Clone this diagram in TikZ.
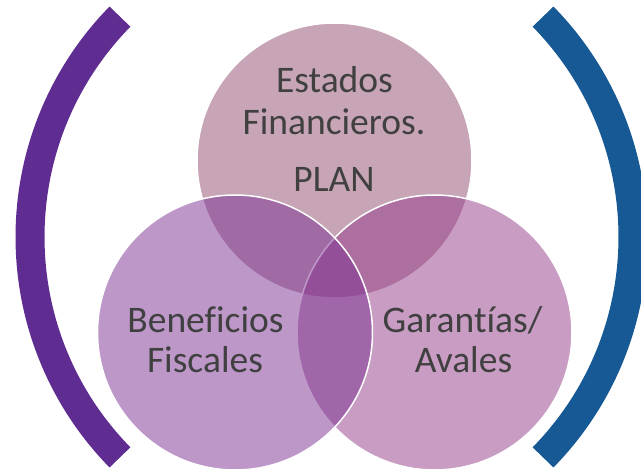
\documentclass[tikz,border=0pt]{standalone}
\usepackage{fontspec}
\setmainfont[Ligatures=NoCommon]{Carlito}
\definecolor{topc}{RGB}{145,75,111}
\definecolor{leftc}{RGB}{123,49,147}
\definecolor{rightc}{RGB}{147,59,137}
\definecolor{bracketl}{RGB}{95,44,145}
\definecolor{bracketr}{RGB}{23,89,149}
\definecolor{txt}{RGB}{64,64,64}
\begin{document}
\begin{tikzpicture}[x=1pt,y=-1pt,
  venn/.style={circle,minimum size=275pt,inner sep=0pt,fill opacity=0.5,draw=white,draw opacity=1,line width=1.5pt},
  lbl/.style={anchor=base,inner sep=0pt,text=txt,font=\fontsize{37.5}{42}\selectfont},
  bracket/.style={line width=29pt}]
\useasboundingbox (0,0) rectangle (641,476);
\fill[white] (0,0) rectangle (641,476);
% circles
\node[venn,fill=topc] (top) at (334.5,160.5) {};
\node[venn,fill=rightc] (right) at (434.5,332.5) {};
\node[venn,fill=leftc] (left) at (235,332.5) {};
% brackets
\coordinate (lc) at (345,237);
\coordinate (rc) at (318,237);
\draw[bracket,bracketl] ([shift={(224.4:315)}]lc) arc[start angle=224.4,end angle=135.6,radius=315];
\begin{scope}
\clip (0,0) rectangle (641,476);
\draw[bracket,bracketr] ([shift={(-44.4:315)}]rc) arc[start angle=-44.4,end angle=44.4,radius=315];
\end{scope}
% labels
\node[lbl] (t1) at (334.5,93) {Estados};
\node[lbl] (t2) at (334,135) {Financieros.};
\node[lbl] (t3) at (334,192) {PLAN};
\node[lbl] (l1) at (205.5,333) {Beneficios};
\node[lbl] (l2) at (205,373) {Fiscales};
\node[lbl] (r1) at (462.5,333) {Garantías/};
\node[lbl] (r2) at (463.5,373) {Avales};
\end{tikzpicture}
\end{document}
